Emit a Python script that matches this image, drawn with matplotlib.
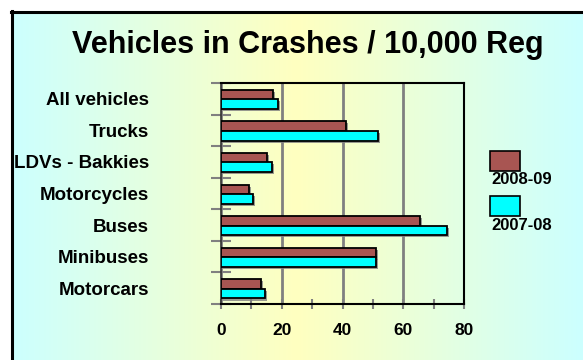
import numpy as np
import matplotlib
matplotlib.use("Agg")
import matplotlib.pyplot as plt
from matplotlib.colors import LinearSegmentedColormap
from matplotlib.patches import Rectangle
from matplotlib.lines import Line2D
import matplotlib.patheffects as pe

# data
categories = ["All vehicles", "Trucks", "LDVs - Bakkies", "Motorcycles",
              "Buses", "Minibuses", "Motorcars"]
crashes_0809 = [17.1, 41.1, 15.1, 9.2, 65.5, 50.9, 13.1]
crashes_0708 = [18.9, 51.8, 16.9, 10.5, 74.5, 50.9, 14.5]
series_names = ["2008-09", "2007-08"]
xticks = [0, 20, 40, 60, 80]

brown = "#A85552"
cyan = "#00FFFF"
font = "Liberation Sans"

W, H = 583, 360
fig = plt.figure(figsize=(W / 100, H / 100), dpi=100)
fig.patch.set_facecolor("white")

# gradient background inside the frame
bg = fig.add_axes([11 / W, 0, 1 - 11 / W, 1 - 11 / H], zorder=-5)
cmap = LinearSegmentedColormap.from_list(
    "bg", [(0, "#CCFFFF"), (0.5, "#FFFFC0"), (1, "#CCFFFF")])
bg.imshow(np.linspace(0, 1, 256)[None, :], aspect="auto", cmap=cmap,
          extent=[0, 1, 0, 1])
bg.set_axis_off()

# frame lines (left and top)
fig.add_artist(Line2D([11.5 / W, 11.5 / W], [0, 1 - 11 / H], color="black",
                      lw=2.2, transform=fig.transFigure))
fig.add_artist(Line2D([11 / W, 1], [1 - 11.5 / H, 1 - 11.5 / H],
                      color="black", lw=2.2, transform=fig.transFigure))

ax = fig.add_axes([221 / W, 1 - 304 / H, (464 - 221) / W, (304 - 83) / H])
ax.set_facecolor("none")

y = np.arange(len(categories))
shadow = [pe.SimplePatchShadow(offset=(1.5, -1.5), shadow_rgbFace="#808080",
                               alpha=0.8), pe.Normal()]
ax.barh(y - 0.13, crashes_0809, height=0.31, color=brown, edgecolor="black",
        linewidth=1.3, path_effects=shadow, zorder=3)
ax.barh(y + 0.17, crashes_0708, height=0.31, color=cyan, edgecolor="black",
        linewidth=1.3, path_effects=shadow, zorder=3)

ax.set_xlim(0, 80)
ax.set_ylim(len(categories) - 0.5, -0.5)

ax.set_xticks(xticks)
ax.set_xticks([10, 30, 50, 70], minor=True)
ax.set_xticklabels([str(v) for v in xticks], fontsize=12.5, fontweight="bold",
                   family=font)
ax.tick_params(axis="x", which="both", direction="inout", length=7,
               color="#808080", width=1.5, pad=10)

ax.set_yticks(np.arange(len(categories) + 1) - 0.5)
ax.set_yticklabels([])
ax.set_yticks(y, minor=True)
ax.set_yticklabels(categories, minor=True, fontsize=13.5, fontweight="bold",
                   family=font)
ax.tick_params(axis="y", which="major", direction="inout", length=14,
               color="#808080", width=1.5)
ax.tick_params(axis="y", which="minor", length=0, pad=52)

ax.grid(axis="x", which="major", color="#808080", lw=2, zorder=1)
for side in ["top", "right", "bottom"]:
    ax.spines[side].set_color("black")
    ax.spines[side].set_linewidth(1.5)
ax.spines["left"].set_color("#333333")
ax.spines["left"].set_linewidth(1.2)

# title
fig.text(308 / W, 1 - 53 / H, "Vehicles in Crashes / 10,000 Reg",
         ha="center", va="baseline", fontsize=22, fontweight="bold",
         family=font)

# legend drawn by hand
for i, (name, col) in enumerate(zip(series_names, [brown, cyan])):
    top = 151 + i * 45
    fig.add_artist(Rectangle((490 / W, 1 - (top + 20) / H), 30 / W, 20 / H,
                             facecolor=col, edgecolor="black", lw=1.2,
                             transform=fig.transFigure))
    fig.text(491 / W, 1 - (top + 29) / H, name, ha="left", va="center",
             fontsize=12, fontweight="bold", family=font)

fig.savefig("out.png", dpi=100)
